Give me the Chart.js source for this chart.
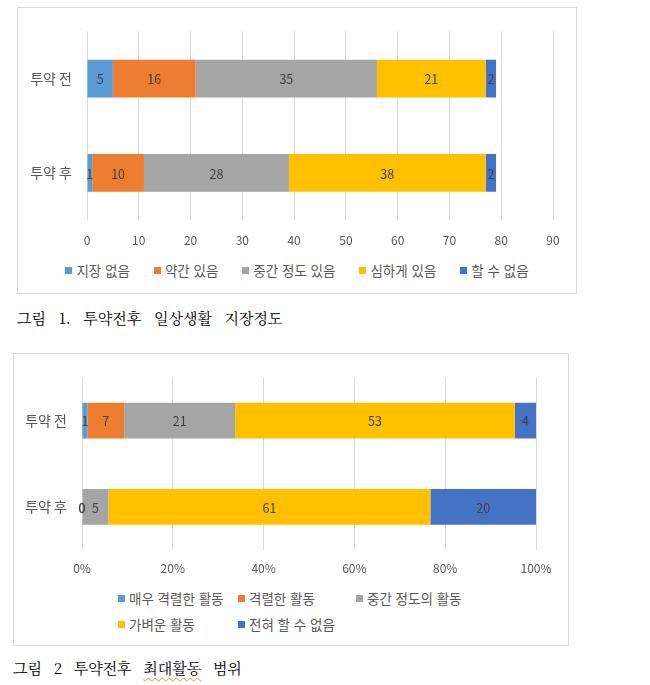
<!DOCTYPE html>
<html lang="ko">
<head>
<meta charset="utf-8">
<script src="https://cdn.jsdelivr.net/npm/chart.js@4.4.1/dist/chart.umd.min.js"></script>
<style>
  body { margin: 0; width: 650px; height: 685px; background: #fff; position: relative; overflow: hidden;
         font-family: "Noto Sans CJK KR", sans-serif; }
  .box { position: absolute; border: 1px solid #d9d9d9; box-sizing: border-box; }
  #box1 { left: 17px; top: 7px; width: 560px; height: 287px; }
  #box2 { left: 13px; top: 353px; width: 556px; height: 293px; }
  .wrap { position: absolute; left: 0; top: 0; }
  #wrap1 { width: 558px; height: 248px; }
  #wrap2 { width: 554px; height: 230px; }
  .legend { position: absolute; font-size: 13.5px; color: #595959; line-height: 18px; white-space: nowrap; }
  .legend span.item { display: inline-flex; align-items: center; }
  .legend i { display: inline-block; width: 7px; height: 7px; margin-right: 4px; }
  #legend1 { left: 0; top: 253px; width: 100%; display: flex; justify-content: center; gap: 24px; }
  #legend2 { left: 104px; top: 235px; display: grid; grid-template-columns: 120px 118px auto; row-gap: 8px; }
  .caption { position: absolute; font-family: "Noto Serif CJK KR", "Batang", "Noto Sans CJK KR", serif;
             font-size: 15px; color: #000; line-height: 20px; white-space: nowrap; }
  #cap1 { left: 17px; top: 308px; word-spacing: 8px; }
  #cap2 { left: 13px; top: 658px; word-spacing: 7px; }
  .spell { text-decoration: underline wavy #e8903a; text-decoration-thickness: 1px; text-underline-offset: 3px; }
</style>
</head>
<body>
<div class="box" id="box1">
  <div class="wrap" id="wrap1"><canvas id="chart1"></canvas></div>
  <div class="legend" id="legend1"></div>
</div>
<div class="caption" id="cap1">그림 1. 투약전후 일상생활 지장정도</div>

<div class="box" id="box2">
  <div class="wrap" id="wrap2"><canvas id="chart2"></canvas></div>
  <div class="legend" id="legend2"></div>
</div>
<div class="caption" id="cap2">그림 2 투약전후 <span class="spell">최대활동</span> 범위</div>

<script>
// 그림 1: 일상생활 지장정도 (명)
const groups = ['투약 전', '투약 후'];
const levels1 = ['지장 없음', '약간 있음', '중간 정도 있음', '심하게 있음', '할 수 없음'];
const before1 = [5, 16, 35, 21, 2];
const after1 = [1, 10, 28, 38, 2];

// 그림 2: 최대활동 범위 (명, 100% 누적)
const levels2 = ['매우 격렬한 활동', '격렬한 활동', '중간 정도의 활동', '가벼운 활동', '전혀 할 수 없음'];
const before2 = [1, 7, 21, 53, 4];
const after2 = [0, 0, 5, 61, 20];

const colors = ['#5b9bd5', '#ed7d31', '#a5a5a5', '#ffc000', '#4472c4'];
const fontFamily = '"Noto Sans CJK KR", sans-serif';

// counts written in the middle of each segment
const barLabels = {
  id: 'barLabels',
  afterDatasetsDraw(chart) {
    const ctx = chart.ctx;
    ctx.save();
    ctx.font = '12.5px ' + fontFamily;
    ctx.fillStyle = '#404040';
    ctx.textAlign = 'center';
    ctx.textBaseline = 'middle';
    chart.data.datasets.forEach((ds, i) => {
      chart.getDatasetMeta(i).data.forEach((bar, j) => {
        const p = bar.getProps(['x', 'y', 'base'], true);
        ctx.fillText(ds.counts[j], (p.x + p.base) / 2, p.y + 1);
      });
    });
    ctx.restore();
  }
};

function makeChart(id, levels, before, after, opts) {
  const sumB = before.reduce((a, b) => a + b, 0);
  const sumA = after.reduce((a, b) => a + b, 0);
  const datasets = levels.map((name, k) => ({
    label: name,
    counts: [before[k], after[k]],
    data: opts.percent ? [before[k] / sumB * 100, after[k] / sumA * 100] : [before[k], after[k]],
    backgroundColor: colors[k],
    borderWidth: 0,
    barPercentage: 1,
    categoryPercentage: opts.catPct
  }));

  return new Chart(document.getElementById(id), {
    type: 'bar',
    data: { labels: groups, datasets: datasets },
    plugins: [barLabels],
    options: {
      indexAxis: 'y',
      responsive: true,
      maintainAspectRatio: false,
      animation: false,
      layout: { padding: { top: opts.top, right: opts.right, left: 0, bottom: 0 } },
      plugins: { legend: { display: false }, tooltip: { enabled: false } },
      scales: {
        x: {
          stacked: true,
          min: 0,
          max: opts.max,
          ticks: {
            stepSize: opts.step,
            color: '#595959',
            font: { family: fontFamily, size: 12 },
            padding: opts.tickPad,
            callback: v => opts.percent ? v + '%' : v
          },
          grid: { color: '#d9d9d9', lineWidth: 1, drawTicks: false },
          border: { display: false },
          afterFit: s => { s.height = opts.xHeight; }
        },
        y: {
          stacked: true,
          ticks: { color: '#595959', font: { family: fontFamily, size: 14 }, padding: 15 },
          grid: { display: false, drawTicks: false },
          border: { display: false },
          afterFit: s => { s.width = opts.yWidth; }
        }
      }
    }
  });
}

makeChart('chart1', levels1, before1, after1,
  { percent: false, max: 90, step: 10, top: 17, right: 23, yWidth: 69, xHeight: 36, tickPad: 13, catPct: 0.4 });
makeChart('chart2', levels2, before2, after2,
  { percent: true, max: 100, step: 20, top: 18, right: 32, yWidth: 68, xHeight: 34, tickPad: 11, catPct: 0.415 });

function buildLegend(elId, levels) {
  const el = document.getElementById(elId);
  levels.forEach((name, k) => {
    const item = document.createElement('span');
    item.className = 'item';
    const sw = document.createElement('i');
    sw.style.background = colors[k];
    item.appendChild(sw);
    item.appendChild(document.createTextNode(name));
    el.appendChild(item);
  });
}
buildLegend('legend1', levels1);
buildLegend('legend2', levels2);
</script>
</body>
</html>
